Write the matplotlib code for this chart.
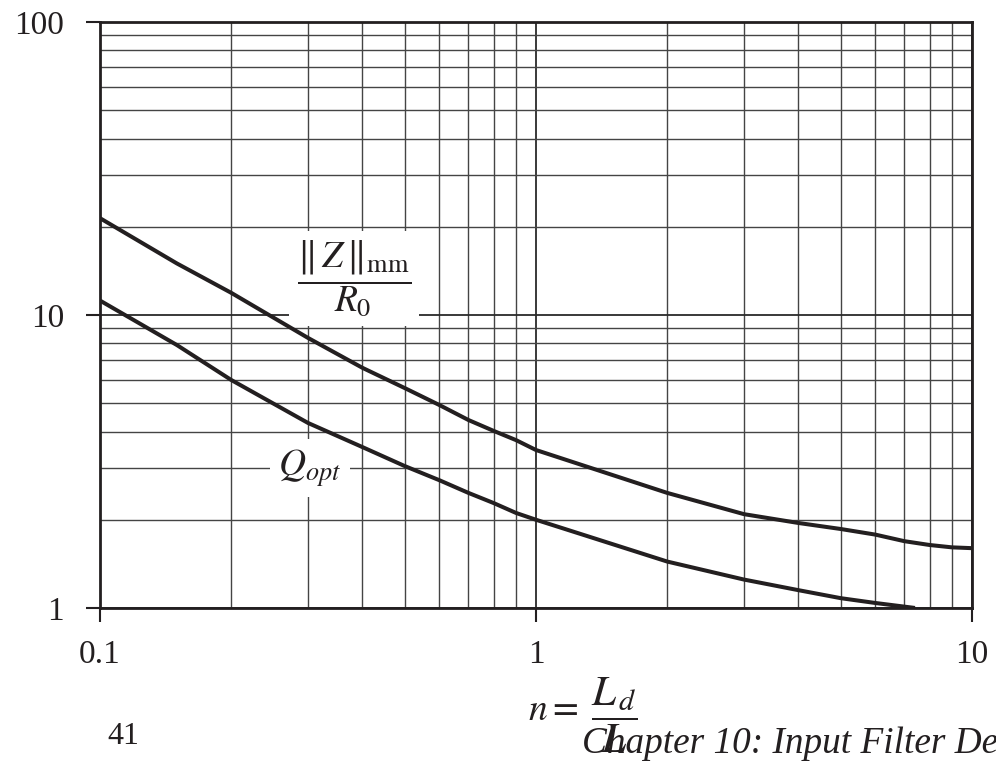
"""Optimum damping curves: peak output impedance and Q versus inductance ratio n."""

import matplotlib

matplotlib.use("Agg")
import matplotlib.pyplot as plt
from matplotlib.ticker import FixedLocator, NullFormatter, FixedFormatter

plt.rcParams["font.family"] = ["Liberation Serif", "DejaVu Serif"]
plt.rcParams["mathtext.fontset"] = "stix"

# values
n_z = [0.1, 0.15, 0.2, 0.3, 0.4, 0.5, 0.6, 0.7, 0.8, 0.9, 1, 2, 3, 4, 5, 6, 7, 8, 9, 10]
z_mm = [21.4, 15.0, 11.9, 8.35, 6.6, 5.63, 4.93, 4.38, 4.02, 3.74, 3.46,
        2.47, 2.09, 1.95, 1.86, 1.78, 1.69, 1.64, 1.61, 1.60]

n_q = [0.1, 0.15, 0.2, 0.3, 0.4, 0.5, 0.6, 0.7, 0.8, 0.9, 1, 2, 3, 4, 5, 6, 7.4]
q_opt = [11.2, 7.9, 6.0, 4.28, 3.54, 3.05, 2.73, 2.47, 2.28, 2.11, 2.0,
         1.44, 1.25, 1.15, 1.08, 1.04, 1.0]

x_major = [0.1, 1, 10]
x_labels = ["0.1", "1", "10"]
y_major = [1, 10, 100]
y_labels = ["1", "10", "100"]
x_minor = [m * d for d in (0.1, 1) for m in range(2, 10)]
y_minor = [m * d for d in (1, 10) for m in range(2, 10)]

ink = "#231f20"

fig = plt.figure(figsize=(9.96, 7.61), dpi=100)
ax = fig.add_axes([0.1004, 0.2011, 0.8755, 0.7700])
ax.set_xscale("log")
ax.set_yscale("log")
ax.set_xlim(0.1, 10)
ax.set_ylim(1, 100)

ax.xaxis.set_major_locator(FixedLocator(x_major))
ax.xaxis.set_major_formatter(FixedFormatter(x_labels))
ax.yaxis.set_major_locator(FixedLocator(y_major))
ax.yaxis.set_major_formatter(FixedFormatter(y_labels))
ax.xaxis.set_minor_locator(FixedLocator(x_minor))
ax.yaxis.set_minor_locator(FixedLocator(y_minor))
ax.xaxis.set_minor_formatter(NullFormatter())
ax.yaxis.set_minor_formatter(NullFormatter())

ax.tick_params(which="major", direction="out", length=10, width=1.5,
               color=ink, labelsize=24, labelcolor=ink)
ax.tick_params(axis="x", which="major", pad=13)
ax.tick_params(axis="y", which="major", pad=16)
ax.tick_params(which="minor", length=0)

ax.grid(True, which="major", color="#2a2a2a", lw=1.3)
ax.grid(True, which="minor", color="#444444", lw=1.0)
for sp in ax.spines.values():
    sp.set_linewidth(2.0)
    sp.set_color(ink)

ax.plot(n_z, z_mm, color=ink, lw=2.9, solid_capstyle="butt", zorder=5)
ax.plot(n_q, q_opt, color=ink, lw=2.9, solid_capstyle="butt", zorder=5)

ax.text(0.3825, 13.3, r"$\dfrac{\Vert\, Z\,\Vert_{\mathrm{mm}}}{R_0}$", fontsize=27,
        color=ink, ha="center", va="center", zorder=4,
        bbox=dict(boxstyle="square,pad=0.2", facecolor="white", edgecolor="none"))
ax.text(0.303, 3.0, r"$Q_{opt}$", fontsize=27, color=ink, ha="center", va="center",
        zorder=4,
        bbox=dict(boxstyle="square,pad=0.22", facecolor="white", edgecolor="none"))

# axis label built from two pieces, as in the source
fig.text(0.530, 0.054, r"$n =$", fontsize=27, color=ink, ha="left", va="baseline")
fig.text(0.617, 0.060, r"$\dfrac{L_{\,d}}{L}$", fontsize=31, color=ink,
         ha="center", va="center")

# page furniture caught in the scan
fig.text(0.1235, 0.0223, "41", fontsize=23, color=ink, ha="center", va="baseline")
fig.text(0.584, 0.0105, "Chapter 10: Input Filter Design", fontsize=26.8,
         style="italic", color=ink, ha="left", va="baseline")

fig.savefig("out.png", dpi=100)
